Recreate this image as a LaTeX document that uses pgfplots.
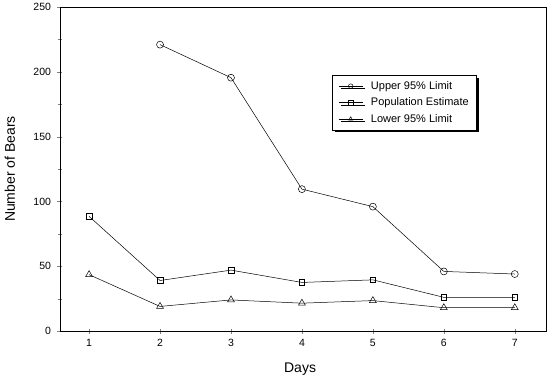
\documentclass[border=0pt]{standalone}
\usepackage{pgfplots}
\pgfplotsset{compat=1.18}
\usepackage{fontspec}
\setmainfont{Liberation Sans}
\usetikzlibrary{shadows}
\begin{document}
\begin{tikzpicture}[x=1pt,y=1pt]
\path (-60,-48) rectangle (490,330);
\begin{axis}[
  at={(0,0)}, anchor=south west,
  scale only axis, width=486pt, height=324pt,
  xmin=0.59, xmax=7.44, ymin=0, ymax=250,
  xtick={1,2,3,4,5,6,7},
  ytick={0,50,100,150,200,250},
  minor y tick num=1,
  tick align=center,
  xtick pos=bottom, ytick pos=left,
  major tick length=5pt, minor tick length=4pt,
  /pgf/number format/assume math mode=true,
  tick label style={font=\fontsize{10.5}{12}\selectfont},
  yticklabel style={xshift=-3pt},
  xticklabel style={yshift=-2pt},
  xlabel={Days}, ylabel={Number of Bears},
  every axis x label/.style={at={(axis description cs:0.494,-0.117)}, anchor=center, font=\fontsize{14}{16}\selectfont},
  every axis y label/.style={at={(axis description cs:-0.103,0.5)}, anchor=center, rotate=90, font=\fontsize{14}{16}\selectfont},
  axis line style={line width=0.8pt},
  legend style={at={(rel axis cs:0.56,0.79)}, anchor=north west, draw=black, line width=0.6pt, fill=white,
    font=\fontsize{11}{13}\selectfont, row sep=3pt, inner xsep=6pt, inner ysep=4pt,
    drop shadow={shadow xshift=2.5pt, shadow yshift=-2.5pt, fill=black, opacity=1}},
  legend cell align=left,
  legend image code/.code={
    \draw[#1, mark indices={2}, mark size=2.3pt] plot coordinates {(0pt,0pt) (12pt,0pt) (24pt,0pt)};
    \path (30pt,0pt);
  },
]
\addplot[black, line width=0.5pt, mark=o, mark size=3.5pt, mark options={solid, fill=white, line width=0.5pt}]
  coordinates {(2,221) (3,195.5) (4,109.5) (5,96) (6,46) (7,44)};
\addlegendentry{Upper 95\% Limit}
\addplot[black, line width=0.5pt, mark=square, mark size=2.8pt, mark options={solid, fill=white, line width=0.5pt}]
  coordinates {(1,88.5) (2,39) (3,47) (4,37.5) (5,39.5) (6,26) (7,26)};
\addlegendentry{Population Estimate}
\addplot[black, line width=0.5pt, mark=triangle, mark size=4pt, mark options={solid, fill=white, line width=0.5pt}]
  coordinates {(1,43.5) (2,19) (3,24) (4,21.5) (5,23.5) (6,18) (7,18)};
\addlegendentry{Lower 95\% Limit}
\end{axis}
\end{tikzpicture}
\end{document}
